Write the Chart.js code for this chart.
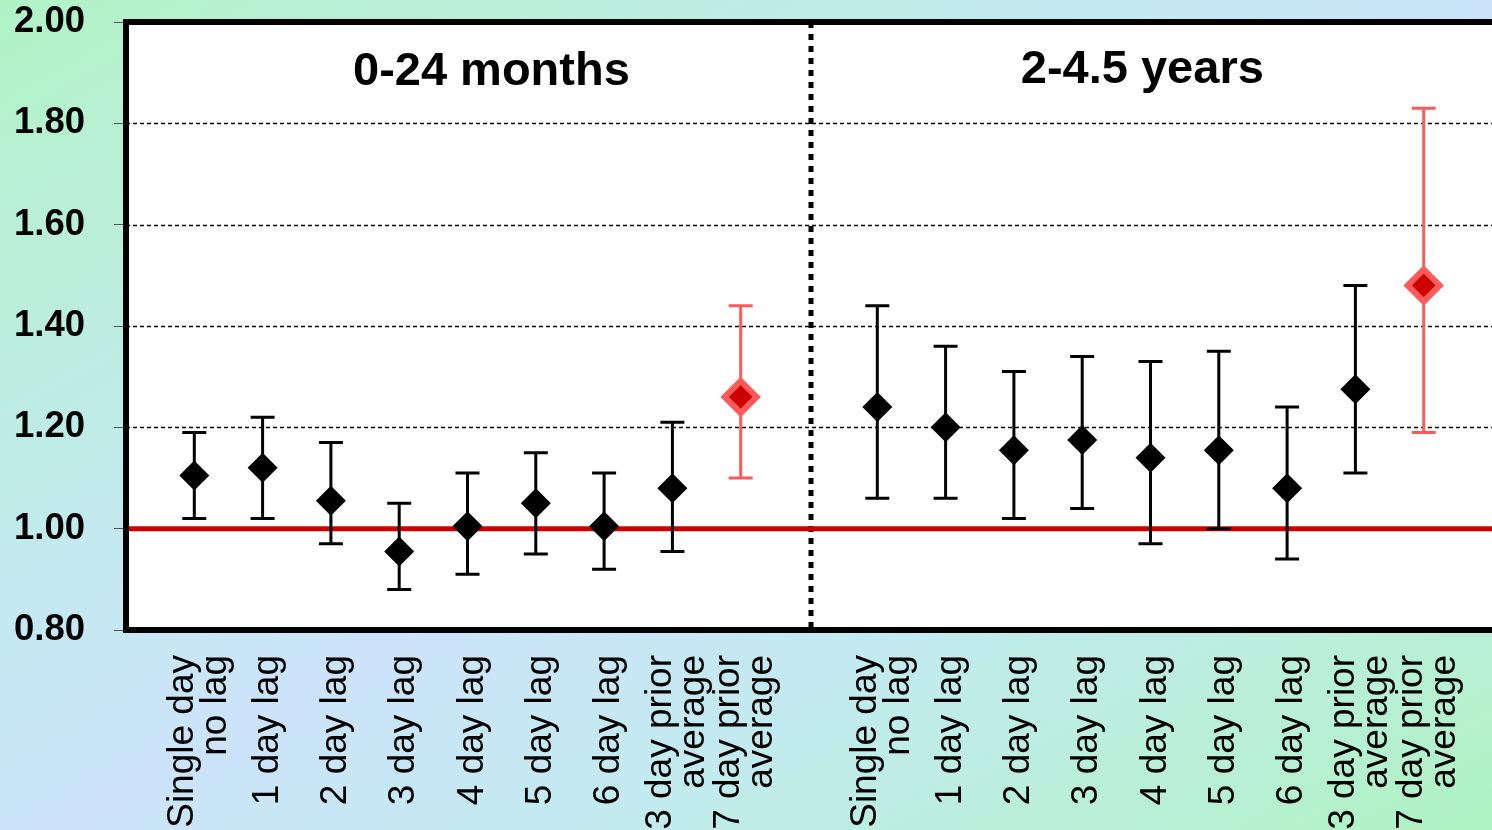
<!DOCTYPE html>
<html>
<head>
<meta charset="utf-8">
<script src="https://cdn.jsdelivr.net/npm/chart.js@4.4.0/dist/chart.umd.min.js"></script>
<style>
html, body { margin: 0; padding: 0; width: 1492px; height: 830px; overflow: hidden; }
body { background: linear-gradient(to bottom right, #b1f3c5 0%, #c4e9f2 38%, #cce3fa 52%, #c2ebef 70%, #b0f3c2 100%); }
canvas { display: block; }
</style>
</head>
<body>
<canvas id="chart" width="1492" height="830"></canvas>
<script>
// categories (same lag windows in both age groups)
const categories = [
    ['Single day', 'no lag'], '1 day lag', '2 day lag', '3 day lag', '4 day lag',
    '5 day lag', '6 day lag', ['3 day prior', 'average'], ['7 day prior', 'average']
];
const groupTitles = ['0-24 months', '2-4.5 years'];
const highlighted = ['7 day prior average'];

// odds ratios with 95% CI
const infantEstimate = [1.105, 1.12, 1.055, 0.955, 1.005, 1.05, 1.005, 1.08, 1.26];
const infantLower    = [1.02, 1.02, 0.97, 0.88, 0.91, 0.95, 0.92, 0.955, 1.10];
const infantUpper    = [1.19, 1.22, 1.17, 1.05, 1.11, 1.15, 1.11, 1.21, 1.44];

const toddlerEstimate = [1.24, 1.20, 1.155, 1.175, 1.14, 1.155, 1.08, 1.275, 1.48];
const toddlerLower    = [1.06, 1.06, 1.02, 1.04, 0.97, 1.00, 0.94, 1.11, 1.19];
const toddlerUpper    = [1.44, 1.36, 1.31, 1.34, 1.33, 1.35, 1.24, 1.48, 1.83];

const yMin = 0.8, yMax = 2.0, yStep = 0.2;
const referenceValue = 1.0;

const FONT = '"Liberation Sans", Arial, sans-serif';
const labelText = c => Array.isArray(c) ? c.join(' ') : c;
const isHighlighted = i => highlighted.includes(labelText(categories[i]));

// x slots: group 1 at 1..9, gap at 10, group 2 at 11..19
const groupStart = [1, 11];
const xTickLabels = {};
groupStart.forEach(s => categories.forEach((c, i) => { xTickLabels[s + i] = c; }));

function makeDataset(est, lo, hi, start) {
    return {
        data: est.map((v, i) => ({x: start + i, y: v, lo: lo[i], hi: hi[i]})),
        showLine: false,
        pointStyle: 'rectRot',
        pointRadius: ctx => isHighlighted(ctx.dataIndex) ? 16 : 15,
        pointBackgroundColor: ctx => isHighlighted(ctx.dataIndex) ? '#cc0000' : '#000000',
        pointBorderColor: ctx => isHighlighted(ctx.dataIndex) ? '#ff5a5a' : '#000000',
        pointBorderWidth: ctx => isHighlighted(ctx.dataIndex) ? 6 : 0
    };
}

const decorPlugin = {
    id: 'decor',
    beforeDraw(chart) {
        const {ctx, chartArea: a} = chart;
        ctx.save();
        ctx.fillStyle = '#ffffff';
        ctx.fillRect(a.left, a.top, a.right - a.left, a.bottom - a.top);
        ctx.restore();
    },
    beforeDatasetsDraw(chart) {
        const {ctx, chartArea: a, scales: {x, y}} = chart;
        ctx.save();
        // dashed grid
        ctx.strokeStyle = '#000';
        ctx.lineWidth = 1.5;
        ctx.setLineDash([4, 3]);
        y.ticks.forEach(t => {
            if (t.value <= yMin + 1e-6 || t.value >= yMax - 1e-6) return;
            const py = Math.round(y.getPixelForValue(t.value)) + 0.5;
            ctx.beginPath();
            ctx.moveTo(a.left, py);
            ctx.lineTo(a.right, py);
            ctx.stroke();
        });
        // group divider
        ctx.setLineDash([6, 6]);
        ctx.lineWidth = 5;
        const dx = x.getPixelForValue(10) + 2;
        ctx.beginPath();
        ctx.moveTo(dx, a.top);
        ctx.lineTo(dx, a.bottom);
        ctx.stroke();
        ctx.setLineDash([]);
        // reference line at 1.00
        ctx.strokeStyle = '#cc0000';
        ctx.lineWidth = 5;
        const ry = y.getPixelForValue(referenceValue);
        ctx.beginPath();
        ctx.moveTo(a.left, ry);
        ctx.lineTo(a.right, ry);
        ctx.stroke();
        // error bars
        chart.data.datasets.forEach(ds => {
            ds.data.forEach((p, i) => {
                const px = x.getPixelForValue(p.x);
                const top = y.getPixelForValue(p.hi);
                const bot = y.getPixelForValue(p.lo);
                ctx.strokeStyle = isHighlighted(i) ? '#ff5a5a' : '#000000';
                ctx.lineWidth = 3;
                ctx.beginPath();
                ctx.moveTo(px, top);
                ctx.lineTo(px, bot);
                ctx.moveTo(px - 12, top);
                ctx.lineTo(px + 12, top);
                ctx.moveTo(px - 12, bot);
                ctx.lineTo(px + 12, bot);
                ctx.stroke();
            });
        });
        // group titles
        ctx.fillStyle = '#000';
        ctx.font = 'bold 47px ' + FONT;
        ctx.textAlign = 'center';
        ctx.textBaseline = 'middle';
        ctx.fillText(groupTitles[0], x.getPixelForValue(5.35), a.top + 50);
        ctx.fillText(groupTitles[1], x.getPixelForValue(14.88), a.top + 48);
        ctx.restore();
    },
    afterDatasetsDraw(chart) {
        const {ctx, chartArea: a} = chart;
        ctx.save();
        ctx.strokeStyle = '#000';
        ctx.lineWidth = 6;
        ctx.beginPath();
        ctx.moveTo(a.right + 5, a.top);
        ctx.lineTo(a.left, a.top);
        ctx.lineTo(a.left, a.bottom);
        ctx.lineTo(a.right + 5, a.bottom);
        ctx.stroke();
        ctx.restore();
    },
    afterDraw(chart) {
        // rotated category labels, lines stacked around each tick
        const {ctx, chartArea: a, scales: {x}} = chart;
        const lineGap = 33;
        ctx.save();
        ctx.fillStyle = '#000';
        ctx.font = '37px ' + FONT;
        ctx.textAlign = 'right';
        ctx.textBaseline = 'middle';
        x.ticks.forEach(t => {
            const lab = xTickLabels[t.value];
            const lines = Array.isArray(lab) ? lab : [lab];
            const px = x.getPixelForValue(t.value) + 5;
            lines.forEach((line, j) => {
                const cx = px + (j - (lines.length - 1) / 2) * lineGap;
                ctx.save();
                ctx.translate(cx, a.bottom + 25);
                ctx.rotate(-Math.PI / 2);
                ctx.fillText(line, 0, 0);
                ctx.restore();
            });
        });
        ctx.restore();
    }
};

new Chart(document.getElementById('chart'), {
    type: 'scatter',
    data: {
        datasets: [
            makeDataset(infantEstimate, infantLower, infantUpper, groupStart[0]),
            makeDataset(toddlerEstimate, toddlerLower, toddlerUpper, groupStart[1])
        ]
    },
    options: {
        responsive: false,
        devicePixelRatio: 1,
        animation: false,
        layout: { autoPadding: false, padding: { top: 22, left: 0, right: 0, bottom: 0 } },
        plugins: {
            legend: { display: false },
            tooltip: { enabled: false }
        },
        scales: {
            x: {
                type: 'linear',
                min: 0,
                max: 20,
                grid: { display: false, drawTicks: false },
                border: { display: false },
                afterBuildTicks(scale) {
                    scale.ticks = Object.keys(xTickLabels).map(v => ({value: Number(v)}));
                },
                afterFit(scale) {
                    scale.height = 200;
                    scale.paddingLeft = 0;
                    scale.paddingRight = 0;
                },
                ticks: { display: false, autoSkip: false }
            },
            y: {
                min: yMin,
                max: yMax,
                grid: {
                    drawOnChartArea: false,
                    drawTicks: true,
                    tickLength: 12,
                    tickColor: '#555',
                    tickWidth: 1
                },
                border: { display: false },
                afterFit(scale) {
                    scale.width = 126;
                    scale.paddingTop = 0;
                    scale.paddingBottom = 0;
                },
                ticks: {
                    stepSize: yStep,
                    padding: 29,
                    color: '#000',
                    font: { family: FONT, size: 36.5, weight: 'bold' },
                    callback: v => v.toFixed(2)
                }
            }
        }
    },
    plugins: [decorPlugin]
});
</script>
</body>
</html>
